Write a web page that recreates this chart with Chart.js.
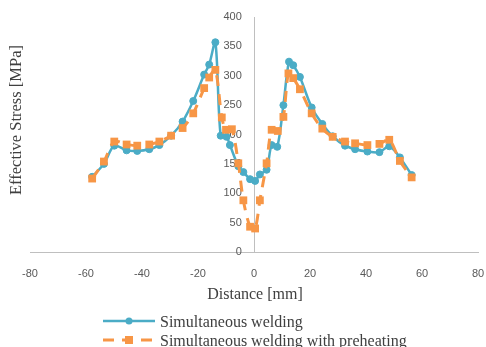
<!DOCTYPE html>
<html>
<head>
<meta charset="utf-8">
<script src="https://cdn.jsdelivr.net/npm/chart.js@4.4.1/dist/chart.umd.min.js"></script>
<style>
  html, body { margin: 0; padding: 0; background: #fff; }
  #chart { display: block; }
</style>
</head>
<body>
<canvas id="chart" width="486" height="347"></canvas>
<script>
// values: x = distance [mm], y = effective stress [MPa]
const weldingX = [-57.8, -53.6, -49.9, -45.5, -41.7, -37.4, -33.8, -29.6, -25.5, -21.7, -17.8, -16, -13.8, -11.9, -9.8, -8.6,
    -5.6, -3.8, -1.4, 0.4, 2.1, 4.5, 6.3, 8.3, 10.5, 12.5, 14, 16.4, 20.6, 24.4, 28.1, 32.5, 36.1, 40.5, 44.8, 48.3, 52.1, 56.3];
const weldingY = [128, 150, 181, 173, 172, 175, 182, 198, 222, 257, 302, 319, 357, 198, 196, 182,
    146, 136, 124, 121, 132, 140, 182, 179, 250, 324, 318, 298, 246, 218, 197, 181, 175, 171, 170, 180, 161, 131];

const preheatX = [-57.8, -53.6, -49.9, -45.5, -41.7, -37.4, -33.8, -29.6, -25.5, -21.7, -17.8, -16, -13.8, -11.5, -10, -7.9,
    -5.6, -3.8, -1.4, 0.4, 2.1, 4.5, 6.3, 8.5, 10.5, 12.3, 14, 16.4, 20.6, 24.4, 28.1, 32.5, 36.1, 40.5, 44.8, 48.3, 52.1, 56.3];
const preheatY = [125, 154, 188, 183, 181, 183, 188, 198, 211, 236, 279, 297, 310, 229, 208, 209,
    151, 88, 43, 40, 88, 151, 208, 206, 230, 304, 296, 277, 236, 210, 196, 188, 185, 182, 184, 191, 155, 127];

const xTicks = { min: -80, max: 80, step: 20 };
const yTicks = { min: 0, max: 400, step: 50 };

const seriesNames = ['Simultaneous welding', 'Simultaneous welding with preheating'];
const xTitle = 'Distance [mm]';
const yTitle = 'Effective Stress [MPa]';

const BLUE = '#4BACC6';
const ORANGE = '#F79646';
const SERIF = "'Liberation Serif', 'Times New Roman', serif";

function toPoints(xs, ys) {
    return xs.map((x, i) => ({ x: x, y: ys[i] }));
}

// Excel-like legend (stacked, left aligned) and the axis titles
const decorations = {
    id: 'decorations',
    afterDraw(chart) {
        const ctx = chart.ctx;
        ctx.save();
        ctx.fillStyle = '#404040';
        ctx.textAlign = 'center';
        ctx.textBaseline = 'middle';

        // x axis title
        ctx.font = '16px ' + SERIF;
        ctx.fillText(xTitle, 255, 295);

        // y axis title
        ctx.font = '16.5px ' + SERIF;
        ctx.translate(17, 120);
        ctx.rotate(-Math.PI / 2);
        ctx.fillText(yTitle, 0, 0);
        ctx.setTransform(1, 0, 0, 1, 0, 0);

        // legend rows
        const rows = [321, 340];
        chart.data.datasets.forEach((ds, i) => {
            const y = rows[i];
            ctx.strokeStyle = ds.borderColor;
            ctx.lineWidth = ds.borderWidth;
            ctx.setLineDash(ds.borderDash || []);
            ctx.beginPath();
            ctx.moveTo(103, y);
            ctx.lineTo(155, y);
            ctx.stroke();
            ctx.setLineDash([]);

            ctx.fillStyle = ds.pointBackgroundColor;
            if (ds.pointStyle === 'rect') {
                ctx.fillRect(125, y - 4, 8, 8);
            } else {
                ctx.beginPath();
                ctx.arc(129, y, 3.5, 0, Math.PI * 2);
                ctx.fill();
            }

            ctx.fillStyle = '#404040';
            ctx.font = '16px ' + SERIF;
            ctx.textAlign = 'left';
            ctx.textBaseline = 'alphabetic';
            ctx.fillText(ds.label, 160, y + 6);
        });
        ctx.restore();
    }
};

Chart.defaults.font.family = "'Liberation Sans', Arial, sans-serif";
Chart.defaults.font.size = 11;
Chart.defaults.color = '#595959';

new Chart(document.getElementById('chart').getContext('2d'), {
    type: 'line',
    data: {
        datasets: [
            {
                label: seriesNames[0],
                data: toPoints(weldingX, weldingY),
                borderColor: BLUE,
                backgroundColor: BLUE,
                pointBackgroundColor: BLUE,
                pointBorderColor: BLUE,
                borderWidth: 2.5,
                pointStyle: 'circle',
                pointRadius: 3.5,
                pointBorderWidth: 1,
                tension: 0.3,
                order: 2
            },
            {
                label: seriesNames[1],
                data: toPoints(preheatX, preheatY),
                borderColor: ORANGE,
                backgroundColor: ORANGE,
                pointBackgroundColor: ORANGE,
                pointBorderColor: ORANGE,
                borderWidth: 3,
                borderDash: [11, 8],
                pointStyle: 'rect',
                pointRadius: 5.5,
                pointBorderWidth: 0,
                tension: 0.3,
                order: 1
            }
        ]
    },
    options: {
        responsive: false,
        animation: false,
        devicePixelRatio: 1,
        layout: {
            padding: { left: 30, right: 8, top: 17, bottom: 55 }
        },
        plugins: {
            legend: { display: false },
            tooltip: { enabled: false }
        },
        scales: {
            x: {
                type: 'linear',
                min: xTicks.min,
                max: xTicks.max,
                ticks: { stepSize: xTicks.step, padding: 15 },
                grid: { display: false, drawTicks: false },
                border: { color: '#bfbfbf', width: 1 },
                afterFit(scale) {
                    scale.height = 40;
                    scale.paddingLeft = 0;
                    scale.paddingRight = 0;
                }
            },
            y: {
                type: 'linear',
                min: yTicks.min,
                max: yTicks.max,
                position: { x: 0 },
                ticks: {
                    stepSize: yTicks.step,
                    // labels sit left of the centred axis, keep a gap to the line
                    callback: (v) => v + '    '
                },
                grid: { display: false, drawTicks: false },
                border: { color: '#bfbfbf', width: 1 },
                afterFit(scale) {
                    scale.paddingTop = 0;
                    scale.paddingBottom = 0;
                }
            }
        }
    },
    plugins: [decorations]
});
</script>
</body>
</html>
